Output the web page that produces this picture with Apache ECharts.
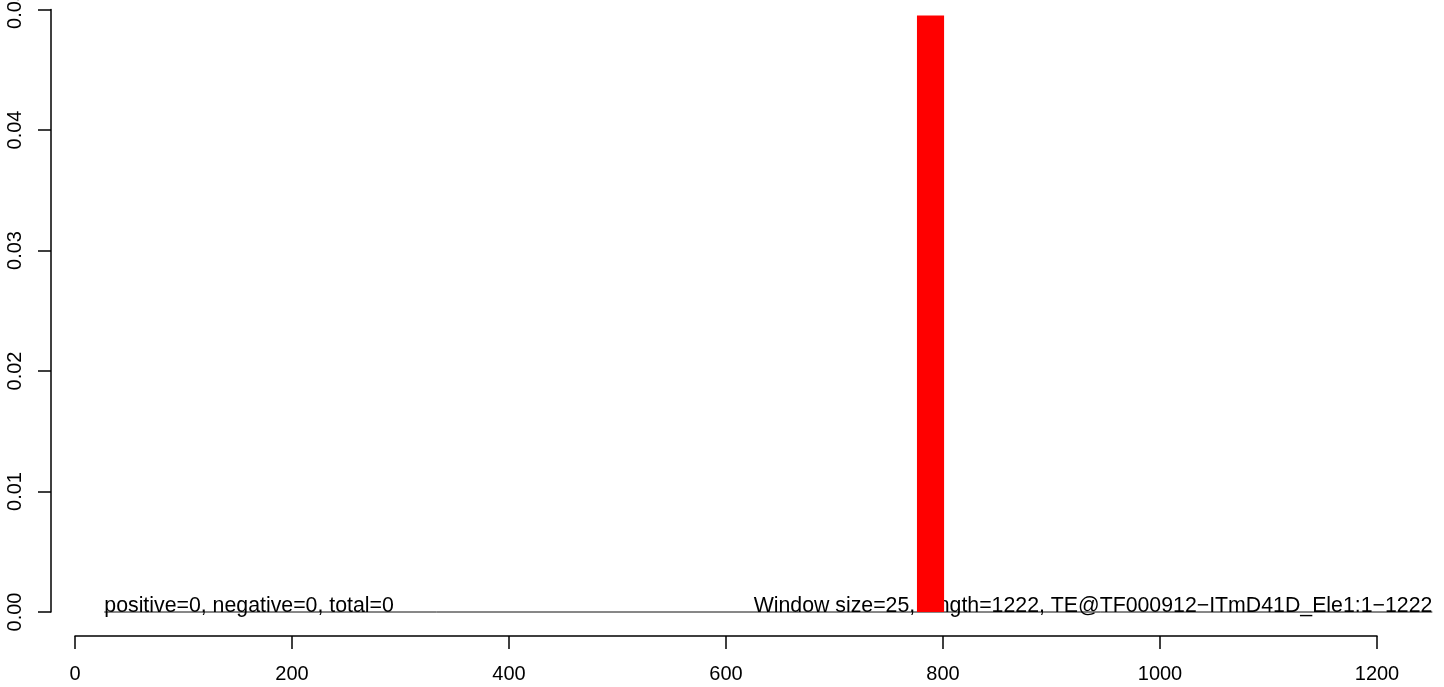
<!DOCTYPE html>
<html>
<head>
<meta charset="utf-8">
<script src="https://cdn.jsdelivr.net/npm/echarts@6/dist/echarts.min.js"></script>
<style>
html,body{margin:0;padding:0;background:#fff;}
#chart{width:1444px;height:687px;}
</style>
</head>
<body>
<div id="chart"></div>
<script>
// Window bars: [start, end, value]
const windows = [[776, 801, 0.0495]];
const xTicks = [0, 200, 400, 600, 800, 1000, 1200];
const yTicks = [0, 0.01, 0.02, 0.03, 0.04, 0.05];
const baseline = [[27, 0], [1251, 0]];
const leftNote = { x: 27, y: 0, text: 'positive=0, negative=0, total=0' };
const rightNote = { x: 1251, y: 0, text: 'Window size=25, length=1222, TE@TF000912\u2212ITmD41D_Ele1:1\u22121222' };

const FONT = 'Liberation Sans, Arial, Helvetica, sans-serif';
const chart = echarts.init(document.getElementById('chart'), null, {renderer: 'canvas'});

chart.setOption({
  animation: false,
  backgroundColor: '#ffffff',
  grid: {left: 75, right: 67, top: 9.5, bottom: 75, containLabel: false, outerBoundsMode: 'none'},
  xAxis: {
    type: 'value', min: xTicks[0], max: xTicks[xTicks.length - 1], interval: 200,
    offset: 24,
    splitLine: {show: false},
    axisLine: {show: true, onZero: false, lineStyle: {color: '#000', width: 1.5}},
    axisTick: {show: true, length: 13, lineStyle: {color: '#000', width: 1.5}},
    axisLabel: {color: '#000', fontSize: 20, fontFamily: FONT, margin: 28, showMinLabel: true, showMaxLabel: true,
      formatter: v => String(v)}
  },
  yAxis: {
    type: 'value', min: yTicks[0], max: yTicks[yTicks.length - 1], interval: 0.01,
    offset: 24,
    splitLine: {show: false},
    axisLine: {show: true, onZero: false, lineStyle: {color: '#000', width: 1.5}},
    axisTick: {show: true, length: 13, lineStyle: {color: '#000', width: 1.5}},
    axisLabel: {color: '#000', fontSize: 20, fontFamily: FONT, margin: 26, rotate: 90,
      formatter: v => v.toFixed(2), showMinLabel: true, showMaxLabel: true}
  },
  series: [
    {
      type: 'custom', name: 'notes', clip: false, z: 2,
      data: [0],
      renderItem: function (params, api) {
        const a = api.coord(baseline[0]);
        const b = api.coord(baseline[1]);
        const l = api.coord([leftNote.x, leftNote.y]);
        const r = api.coord([rightNote.x, rightNote.y]);
        return {
          type: 'group',
          children: [
            {type: 'line', shape: {x1: a[0], y1: a[1], x2: b[0], y2: b[1]}, style: {stroke: '#111', lineWidth: 1}},
            {type: 'text', style: {x: l[0], y: l[1] + 5, text: leftNote.text, fill: '#000', font: '21.3px ' + FONT, textAlign: 'left', textVerticalAlign: 'bottom'}},
            {type: 'text', style: {x: r[0], y: r[1] + 5, text: rightNote.text, fill: '#000', font: '21.3px ' + FONT, textAlign: 'right', textVerticalAlign: 'bottom'}}
          ]
        };
      }
    },
    {
      type: 'custom', name: 'windows', z: 5,
      data: windows,
      renderItem: function (params, api) {
        const p0 = api.coord([api.value(0), 0]);
        const p1 = api.coord([api.value(1), api.value(2)]);
        return {
          type: 'rect',
          shape: {x: p0[0], y: p1[1], width: p1[0] - p0[0], height: p0[1] - p1[1]},
          style: {fill: '#ff0000'}
        };
      }
    }
  ]
});
</script>
</body>
</html>
